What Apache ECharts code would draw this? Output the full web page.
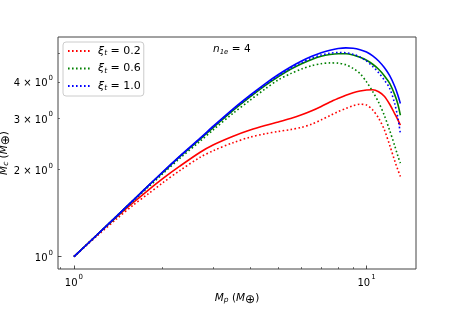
<!DOCTYPE html>
<html><head><meta charset="utf-8">
<script src="https://cdn.jsdelivr.net/npm/echarts@6/dist/echarts.min.js"></script>
<style>html,body{margin:0;padding:0;background:#fff}#c{width:463px;height:309px}</style>
</head><body><div id="c"></div>
<script>
// ---- data ----
const xiLabels = ['0.2', '0.6', '1.0'];
const colors = ['#ff0000', '#008000', '#0000ff'];
const mp = [1, 1.2, 1.4, 1.6, 1.8, 2, 2.3, 2.7, 3, 3.5, 4, 4.5, 5, 5.5, 6, 6.5, 7, 7.5, 8, 8.5, 9, 9.5, 10, 10.5, 11, 11.5, 12, 12.5, 12.8, 13.05];
const solid02  = [1, 1.19, 1.37, 1.54, 1.70, 1.85, 2.05, 2.29, 2.43, 2.60, 2.73, 2.83, 2.91, 2.99, 3.08, 3.18, 3.29, 3.41, 3.51, 3.60, 3.67, 3.72, 3.75, 3.76, 3.70, 3.57, 3.35, 3.10, 2.96, 2.84];
const dotted02 = [1, 1.18, 1.35, 1.51, 1.65, 1.79, 1.98, 2.20, 2.32, 2.47, 2.58, 2.65, 2.70, 2.74, 2.79, 2.86, 2.96, 3.06, 3.16, 3.24, 3.31, 3.35, 3.33, 3.20, 3.00, 2.74, 2.42, 2.13, 1.99, 1.89];
const solid06  = [1, 1.19, 1.38, 1.57, 1.76, 1.94, 2.21, 2.54, 2.79, 3.19, 3.55, 3.88, 4.17, 4.42, 4.62, 4.78, 4.90, 4.97, 5.00, 5.00, 4.95, 4.86, 4.75, 4.60, 4.42, 4.20, 3.95, 3.60, 3.35, 3.07];
const dotted06 = [1, 1.19, 1.37, 1.56, 1.74, 1.92, 2.18, 2.50, 2.74, 3.12, 3.46, 3.78, 4.07, 4.27, 4.43, 4.55, 4.62, 4.65, 4.64, 4.58, 4.45, 4.27, 4.00, 3.70, 3.40, 3.07, 2.72, 2.40, 2.22, 2.10];
const solid10  = [1, 1.19, 1.38, 1.57, 1.76, 1.95, 2.22, 2.56, 2.82, 3.23, 3.60, 3.94, 4.24, 4.50, 4.72, 4.90, 5.04, 5.14, 5.21, 5.24, 5.22, 5.16, 5.07, 4.92, 4.72, 4.48, 4.20, 3.85, 3.60, 3.37];
const dotted10 = [1, 1.19, 1.38, 1.57, 1.76, 1.94, 2.21, 2.55, 2.80, 3.21, 3.57, 3.91, 4.20, 4.45, 4.66, 4.83, 4.95, 5.02, 5.05, 5.04, 4.98, 4.87, 4.72, 4.52, 4.30, 4.06, 3.80, 3.35, 3.00, 2.66];
const xMajorTicks = [1, 10];
const xMinorTicks = [0.9, 2, 3, 4, 5, 6, 7, 8, 9];
const yMajorTicks = [1];
const yLabelTicks = [1, 2, 3, 4];
const yMinorTicks = [2, 3, 4, 5];
// ---- end data ----

const pairs = ys => mp.map((x, i) => [x, ys[i]]);
const FONT = 'DejaVu Sans';
const supRich = {
  b: { fontFamily: FONT, fontSize: 10, color: '#000', lineHeight: 14, verticalAlign: 'bottom' },
  s: { fontFamily: FONT, fontSize: 7, color: '#000', lineHeight: 14, verticalAlign: 'top', padding: [0, 0, 0, 1] }
};
const nameRich = {
  i: { fontFamily: FONT, fontStyle: 'italic', fontSize: 10.5, color: '#000' },
  sub: { fontFamily: FONT, fontStyle: 'italic', fontSize: 7.5, color: '#000', padding: [5, 0, 0, 0] },
  n: { fontFamily: FONT, fontSize: 10.5, color: '#000' },
  o: { fontFamily: FONT, fontSize: 12, color: '#000', padding: [4, 0, 0, 0] }
};
const xMin = 0.882, xMax = 14.76, yMin = 0.907, yMax = 5.71;

function series(name, ys, color, dotted) {
  return {
    type: 'line', name, data: pairs(ys), showSymbol: false, symbol: 'none',
    smooth: 0.3, silent: true, animation: false,
    lineStyle: { color, width: 1.6, type: dotted ? [1.6, 2.4] : 'solid', cap: 'butt' },
    itemStyle: { color }
  };
}

const chart = echarts.init(document.getElementById('c'), null, { renderer: 'canvas' });
chart.setOption({
  animation: false,
  backgroundColor: '#fff',
  grid: { left: 58, right: 47, top: 37, bottom: 40, outerBoundsMode: 'none', containLabel: false,
    show: true, borderColor: '#444', borderWidth: 1, backgroundColor: 'transparent' },
  xAxis: [
    {
      type: 'log', logBase: 10, min: xMin, max: xMax, position: 'bottom',
      name: '{i|M}{sub|p}{n| (}{i|M}{o|⊕}{n|)}', nameLocation: 'middle', nameGap: 21, nameMoveOverlap: false,
      nameTextStyle: { rich: nameRich },
      axisLine: { show: false }, splitLine: { show: false },
      axisTick: { show: true, inside: true, length: 3.5, customValues: xMajorTicks, lineStyle: { color: '#222', width: 0.8 } },
      axisLabel: { show: true, margin: 5, customValues: xMajorTicks,
        formatter: v => '{b|10}{s|' + Math.round(Math.log10(v)) + '}', rich: supRich }
    },
    {
      type: 'log', logBase: 10, min: xMin, max: xMax, position: 'bottom',
      axisLine: { show: false }, splitLine: { show: false }, axisLabel: { show: false },
      axisTick: { show: true, inside: true, length: 2, customValues: xMinorTicks, lineStyle: { color: '#222', width: 0.6 } }
    }
  ],
  yAxis: [
    {
      type: 'log', logBase: 10, min: yMin, max: yMax, position: 'left',
      name: '{i|M}{sub|c}{n| (}{i|M}{o|⊕}{n|)}', nameLocation: 'middle', nameGap: 46, nameRotate: 90, nameMoveOverlap: false,
      nameTextStyle: { rich: nameRich },
      axisLine: { show: false }, splitLine: { show: false },
      axisTick: { show: true, inside: true, length: 3.5, customValues: yMajorTicks, lineStyle: { color: '#222', width: 0.8 } },
      axisLabel: { show: true, margin: 5, customValues: yLabelTicks,
        formatter: v => (v === 1 ? '' : '{b|' + v + ' × }') + '{b|10}{s|0}', rich: supRich }
    },
    {
      type: 'log', logBase: 10, min: yMin, max: yMax, position: 'left',
      axisLine: { show: false }, splitLine: { show: false }, axisLabel: { show: false },
      axisTick: { show: true, inside: true, length: 2, customValues: yMinorTicks, lineStyle: { color: '#222', width: 0.6 } }
    }
  ],
  legend: {
    left: 63, top: 42, orient: 'vertical',
    padding: [2, 3, 3, 4], itemGap: 3.5, itemWidth: 22, itemHeight: 10,
    backgroundColor: 'rgba(255,255,255,0.85)', borderColor: '#cccccc', borderWidth: 1, borderRadius: 3,
    itemStyle: { opacity: 0 },
    data: xiLabels.map(l => 'xi' + l),
    formatter: n => '{g|ξ}{t|t}{n| = ' + n.slice(2) + '}',
    textStyle: { lineHeight: 14, rich: {
      g: { fontFamily: FONT, fontStyle: 'italic', fontSize: 11, color: '#000', padding: [0, 0, 0, 3] },
      t: { fontFamily: FONT, fontStyle: 'italic', fontSize: 7.5, color: '#000', padding: [5, 0, 0, 0] },
      n: { fontFamily: FONT, fontSize: 11, color: '#000' }
    } }
  },
  graphic: [{
    type: 'text', left: 213, top: 44, silent: true,
    style: {
      text: '{i|n}{sub|1e}{n| = 4}',
      rich: {
        i: { fontFamily: FONT, fontStyle: 'italic', fontSize: 10.5, fill: '#000' },
        sub: { fontFamily: FONT, fontStyle: 'italic', fontSize: 7, fill: '#000', padding: [5, 0, 0, 0] },
        n: { fontFamily: FONT, fontSize: 10.5, fill: '#000' }
      }
    }
  }],
  series: [
    series('s0.2', solid02, colors[0], false),
    series('xi' + xiLabels[0], dotted02, colors[0], true),
    series('s0.6', solid06, colors[1], false),
    series('xi' + xiLabels[1], dotted06, colors[1], true),
    series('s1.0', solid10, colors[2], false),
    series('xi' + xiLabels[2], dotted10, colors[2], true)
  ]
});
</script></body></html>
